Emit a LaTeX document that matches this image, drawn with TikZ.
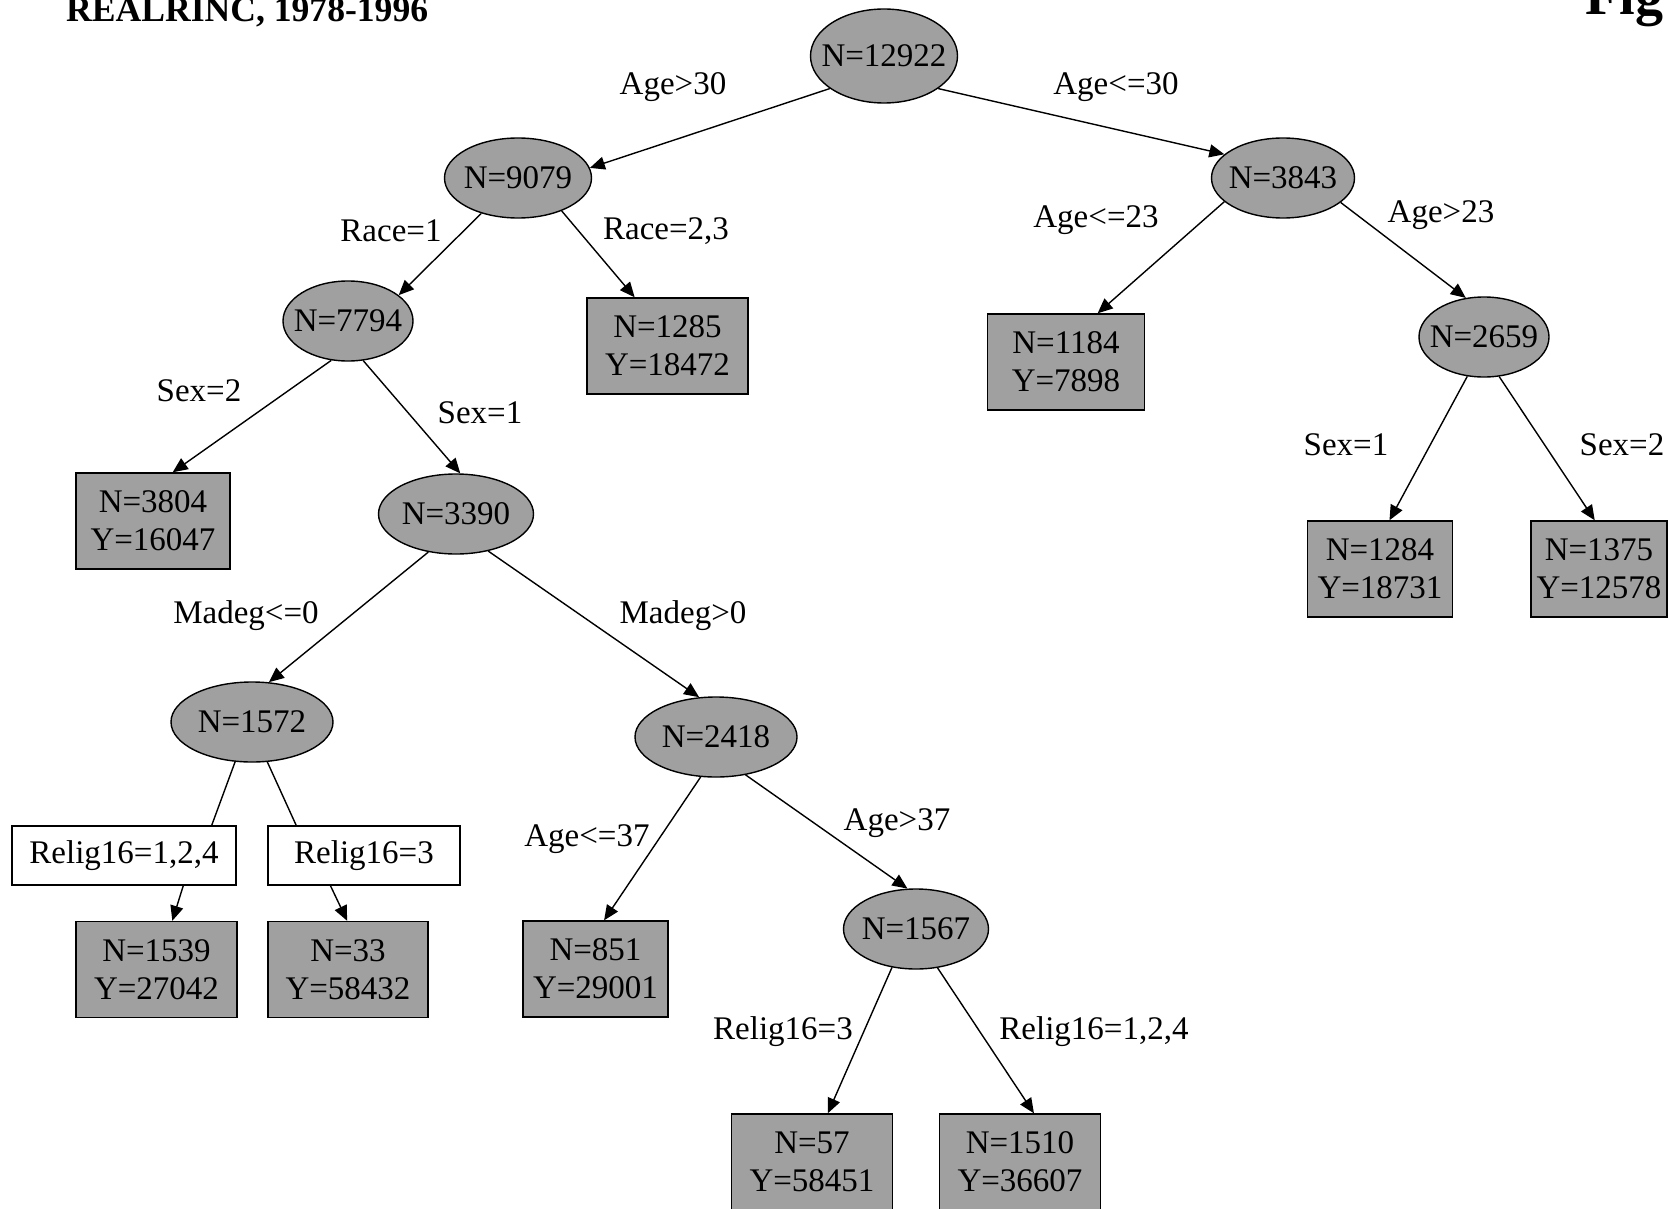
\documentclass[tikz,border=0pt]{standalone}
\usepackage{fontspec}
\setmainfont{Liberation Serif}
\usetikzlibrary{shapes.geometric,arrows.meta}
\definecolor{cellgray}{RGB}{160,160,160}

\begin{document}
\begin{tikzpicture}[x=1pt,y=-1pt,
  font=\fontsize{33}{38}\selectfont,
  split/.style={draw,ellipse,fill=cellgray,line width=1.4pt,inner xsep=-12pt,inner ysep=0pt,minimum height=80pt},
  leaf/.style={draw,rectangle,fill=cellgray,line width=1.4pt,inner sep=0pt,minimum height=96pt,align=center},
  cond/.style={draw,rectangle,fill=white,line width=1.4pt,inner sep=0pt,minimum height=59pt},
  edge/.style={line width=1.4pt,-{Triangle[length=15pt,width=13pt]}},
  plain/.style={line width=1.4pt}]
\useasboundingbox (0,0) rectangle (1668,1209);
% titles, cut by the page
\node[anchor=base west,inner sep=0pt,font=\fontsize{35.6}{40}\selectfont\bfseries] (title) at (66,22) {REALRINC, 1978-1996};
\node[anchor=base west,inner sep=0pt,font=\fontsize{56}{60}\selectfont\bfseries] (fig) at (1585,15) {Fig};
% splits
\node[split,minimum width=147pt,minimum height=94pt] (n12922) at (884,56) {N=12922};
\node[split,minimum width=147pt] (n9079) at (518,178) {N=9079};
\node[split,minimum width=143pt] (n3843) at (1283,178) {N=3843};
\node[split,minimum width=130pt] (n7794) at (348,321) {N=7794};
\node[split,minimum width=130pt] (n2659) at (1484,337) {N=2659};
\node[split,minimum width=155pt] (n3390) at (456,514) {N=3390};
\node[split,minimum width=162pt] (n1572) at (252,722) {N=1572};
\node[split,minimum width=162pt] (n2418) at (716,737) {N=2418};
\node[split,minimum width=145pt] (n1567) at (916,929) {N=1567};
% leaves
\node[leaf,minimum width=161pt] (n1285) at (667.5,346) {N=1285\\Y=18472};
\node[leaf,minimum width=157pt] (n1184) at (1066,362) {N=1184\\Y=7898};
\node[leaf,minimum width=154pt] (n3804) at (153,521) {N=3804\\Y=16047};
\node[leaf,minimum width=145pt] (n1284) at (1380,569) {N=1284\\Y=18731};
\node[leaf,minimum width=136pt] (n1375) at (1599,569) {N=1375\\Y=12578};
\node[leaf,minimum width=161pt] (n1539) at (156.5,969.5) {N=1539\\Y=27042};
\node[leaf,minimum width=160pt] (n33) at (348,969.5) {N=33\\Y=58432};
\node[leaf,minimum width=145pt] (n851) at (595.5,969) {N=851\\Y=29001};
\node[leaf,minimum width=161pt] (n57) at (812,1162) {N=57\\Y=58451};
\node[leaf,minimum width=161pt] (n1510) at (1020,1162) {N=1510\\Y=36607};
% conditions in boxes
\node[cond,minimum width=224pt] (rel124) at (124,855.5) {Relig16=1,2,4};
\node[cond,minimum width=192pt] (rel3) at (364,855.5) {Relig16=3};
% edge labels
\node (l1) at (673,87) {Age>30};
\node (l2) at (1116,87) {Age<=30};
\node (l3) at (391,231) {Race=1};
\node (l4) at (666,231) {Race=2,3};
\node (l5) at (1096,220) {Age<=23};
\node (l6) at (1441,215) {Age>23};
\node (l7) at (199,391) {Sex=2};
\node (l8) at (480,413) {Sex=1};
\node (l9) at (1346,445) {Sex=1};
\node (l10) at (1622,445) {Sex=2};
\node (l11) at (246,616) {Madeg<=0};
\node (l12) at (683,616) {Madeg>0};
\node (l13) at (587,839) {Age<=37};
\node (l14) at (897,823) {Age>37};
\node (l15) at (783,1032) {Relig16=3};
\node (l16) at (1094,1032) {Relig16=1,2,4};
% connectors
\draw[edge] (n12922.211) -- (n9079.8);
\draw[edge] (n12922.329) -- (n3843.158);
\draw[edge] (n9079.224) -- (n7794.27);
\draw[edge] (n9079.323) -- (n1285.124);
\draw[edge] (n3843.202) -- (n1184.57);
\draw[edge] (n3843.337) -- (n2659.115);
\draw[edge] (n7794.247) -- (n3804.68);
\draw[edge] (n7794.291) -- (n3390.84);
\draw[edge] (n2659.247) -- (n1284.79);
\draw[edge] (n2659.291) -- (n1375.95);
\draw[edge] (n3390.234) -- (n1572.67);
\draw[edge] (n3390.311) -- (n2418.113);
\draw[plain] (n1572.247) -- (rel124.19);
\draw[plain] (n1572.291) -- (rel3.156);
\draw[edge] (rel124.333) -- (n1539.72);
\draw[edge] (rel3.222) -- (n33.91);
\draw[edge] (n2418.249) -- (n851.80);
\draw[edge] (n2418.308) -- (n1567.102);
\draw[edge] (n1567.238) -- (n57.72);
\draw[edge] (n1567.299) -- (n1510.74);
\end{tikzpicture}
\end{document}
